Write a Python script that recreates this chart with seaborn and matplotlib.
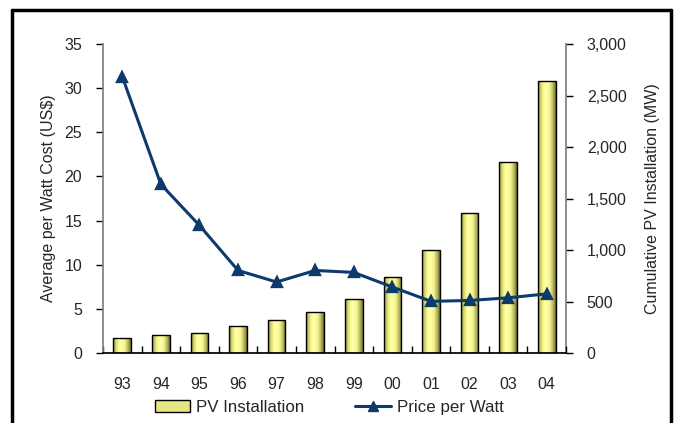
import numpy as np
import matplotlib
matplotlib.use("Agg")
import matplotlib.pyplot as plt
import seaborn as sns
from matplotlib.colors import LinearSegmentedColormap
from matplotlib.lines import Line2D
from matplotlib.patches import Patch
from matplotlib.ticker import FuncFormatter, MultipleLocator

years = ["93", "94", "95", "96", "97", "98", "99", "00", "01", "02", "03", "04"]
pv_installation = [142, 171, 194, 262, 323, 401, 527, 734, 1003, 1356, 1855, 2640]
price_per_watt = [31.3, 19.1, 14.45, 9.35, 8.04, 9.35, 9.13, 7.47, 5.85, 5.95, 6.25, 6.7]

sns.set_theme(style="white")
plt.rcParams["font.family"] = ["Liberation Sans", "DejaVu Sans"]

line_color = "#0B3A6B"
fig = plt.figure(figsize=(6.78, 4.23), dpi=100)
ax = fig.add_axes([103 / 678, 1 - 353 / 423, 463 / 678, 309 / 423])
ax2 = ax.twinx()

# bars on the right (MW) axis, behind the price line
sns.barplot(x=years, y=pv_installation, ax=ax2, width=0.46, color="#ffff99",
            edgecolor="black", linewidth=1.0)

shade = LinearSegmentedColormap.from_list(
    "cyl", ["#8a8a45", "#d8d870", "#ffff99", "#ffffa8", "#f2f290", "#bdbd60", "#6e6e30"])
grad = np.linspace(0, 1, 64).reshape(1, -1)
for p in list(ax2.patches):
    x0, y0 = p.get_x(), p.get_y()
    w, h = p.get_width(), p.get_height()
    im = ax2.imshow(grad, cmap=shade, aspect="auto", extent=[x0, x0 + w, y0, y0 + h],
                    zorder=p.get_zorder() - 0.1, interpolation="bilinear")
    im.set_clip_path(p)
    p.set_facecolor("none")

ax2.set_xlim(-0.5, len(years) - 0.5)
ax2.set_ylim(0, 3000)
ax2.yaxis.set_major_locator(MultipleLocator(500))
ax2.yaxis.set_major_formatter(FuncFormatter(lambda v, _: f"{int(v):,}"))
ax2.set_ylabel("Cumulative PV Installation (MW)", fontsize=11.5, labelpad=13)

# price line on the left axis
sns.pointplot(x=years, y=price_per_watt, ax=ax, color=line_color, markers="^",
              markersize=7, linewidth=2.2)
ax.set_zorder(ax2.get_zorder() + 1)
ax.patch.set_visible(False)
ax.set_xlim(-0.5, len(years) - 0.5)
ax.set_ylim(0, 35)
ax.yaxis.set_major_locator(MultipleLocator(5))
ax.set_ylabel("Average per Watt Cost (US$)", fontsize=11.5, labelpad=6)
ax.set_xlabel("")
ax2.set_xlabel("")

for a in (ax, ax2):
    for s in a.spines.values():
        s.set_visible(False)
ax.spines["left"].set_visible(True)
ax.spines["left"].set_color("#808080")
ax.spines["bottom"].set_visible(True)
ax.spines["bottom"].set_color("black")
ax2.spines["right"].set_visible(True)
ax2.spines["right"].set_color("#808080")

ax.tick_params(axis="y", left=True, direction="out", length=5, width=1,
               color="black", labelsize=11.5, pad=10)
ax2.tick_params(axis="y", right=True, direction="out", length=5, width=1,
                color="black", labelsize=11.5, pad=10)
ax2.tick_params(axis="x", bottom=False, labelbottom=False)

# category boundaries marked with short inward ticks
ax.set_xticks(range(len(years)))
ax.set_xticklabels(years)
ax.set_xticks(np.arange(-0.5, len(years), 1.0), minor=True)
ax.tick_params(axis="x", which="major", bottom=False, labelsize=11.5, pad=11)
ax.tick_params(axis="x", which="minor", bottom=True, direction="in", length=5,
               width=1, color="black")

handles = [Patch(facecolor="#e6e680", edgecolor="black", linewidth=1.0),
           Line2D([0], [0], color=line_color, lw=2.2, marker="^", markersize=7)]
fig.legend(handles, ["PV Installation", "Price per Watt"], loc="center",
           bbox_to_anchor=(329 / 678, 1 - 407 / 423), ncol=2, frameon=False,
           fontsize=12.2, handlelength=2.1, columnspacing=3.0, handletextpad=0.35)

# outer frame around the chart
lw = 2.5
fig.add_artist(Line2D([12 / 678, 12 / 678], [0, 1 - 10 / 423], color="black", lw=lw,
                      transform=fig.transFigure))
fig.add_artist(Line2D([12 / 678, 671 / 678], [1 - 10 / 423, 1 - 10 / 423], color="black",
                      lw=lw, transform=fig.transFigure))
fig.add_artist(Line2D([671 / 678, 671 / 678], [0, 1 - 10 / 423], color="black", lw=lw,
                      transform=fig.transFigure))

fig.savefig("out.png", dpi=100)
